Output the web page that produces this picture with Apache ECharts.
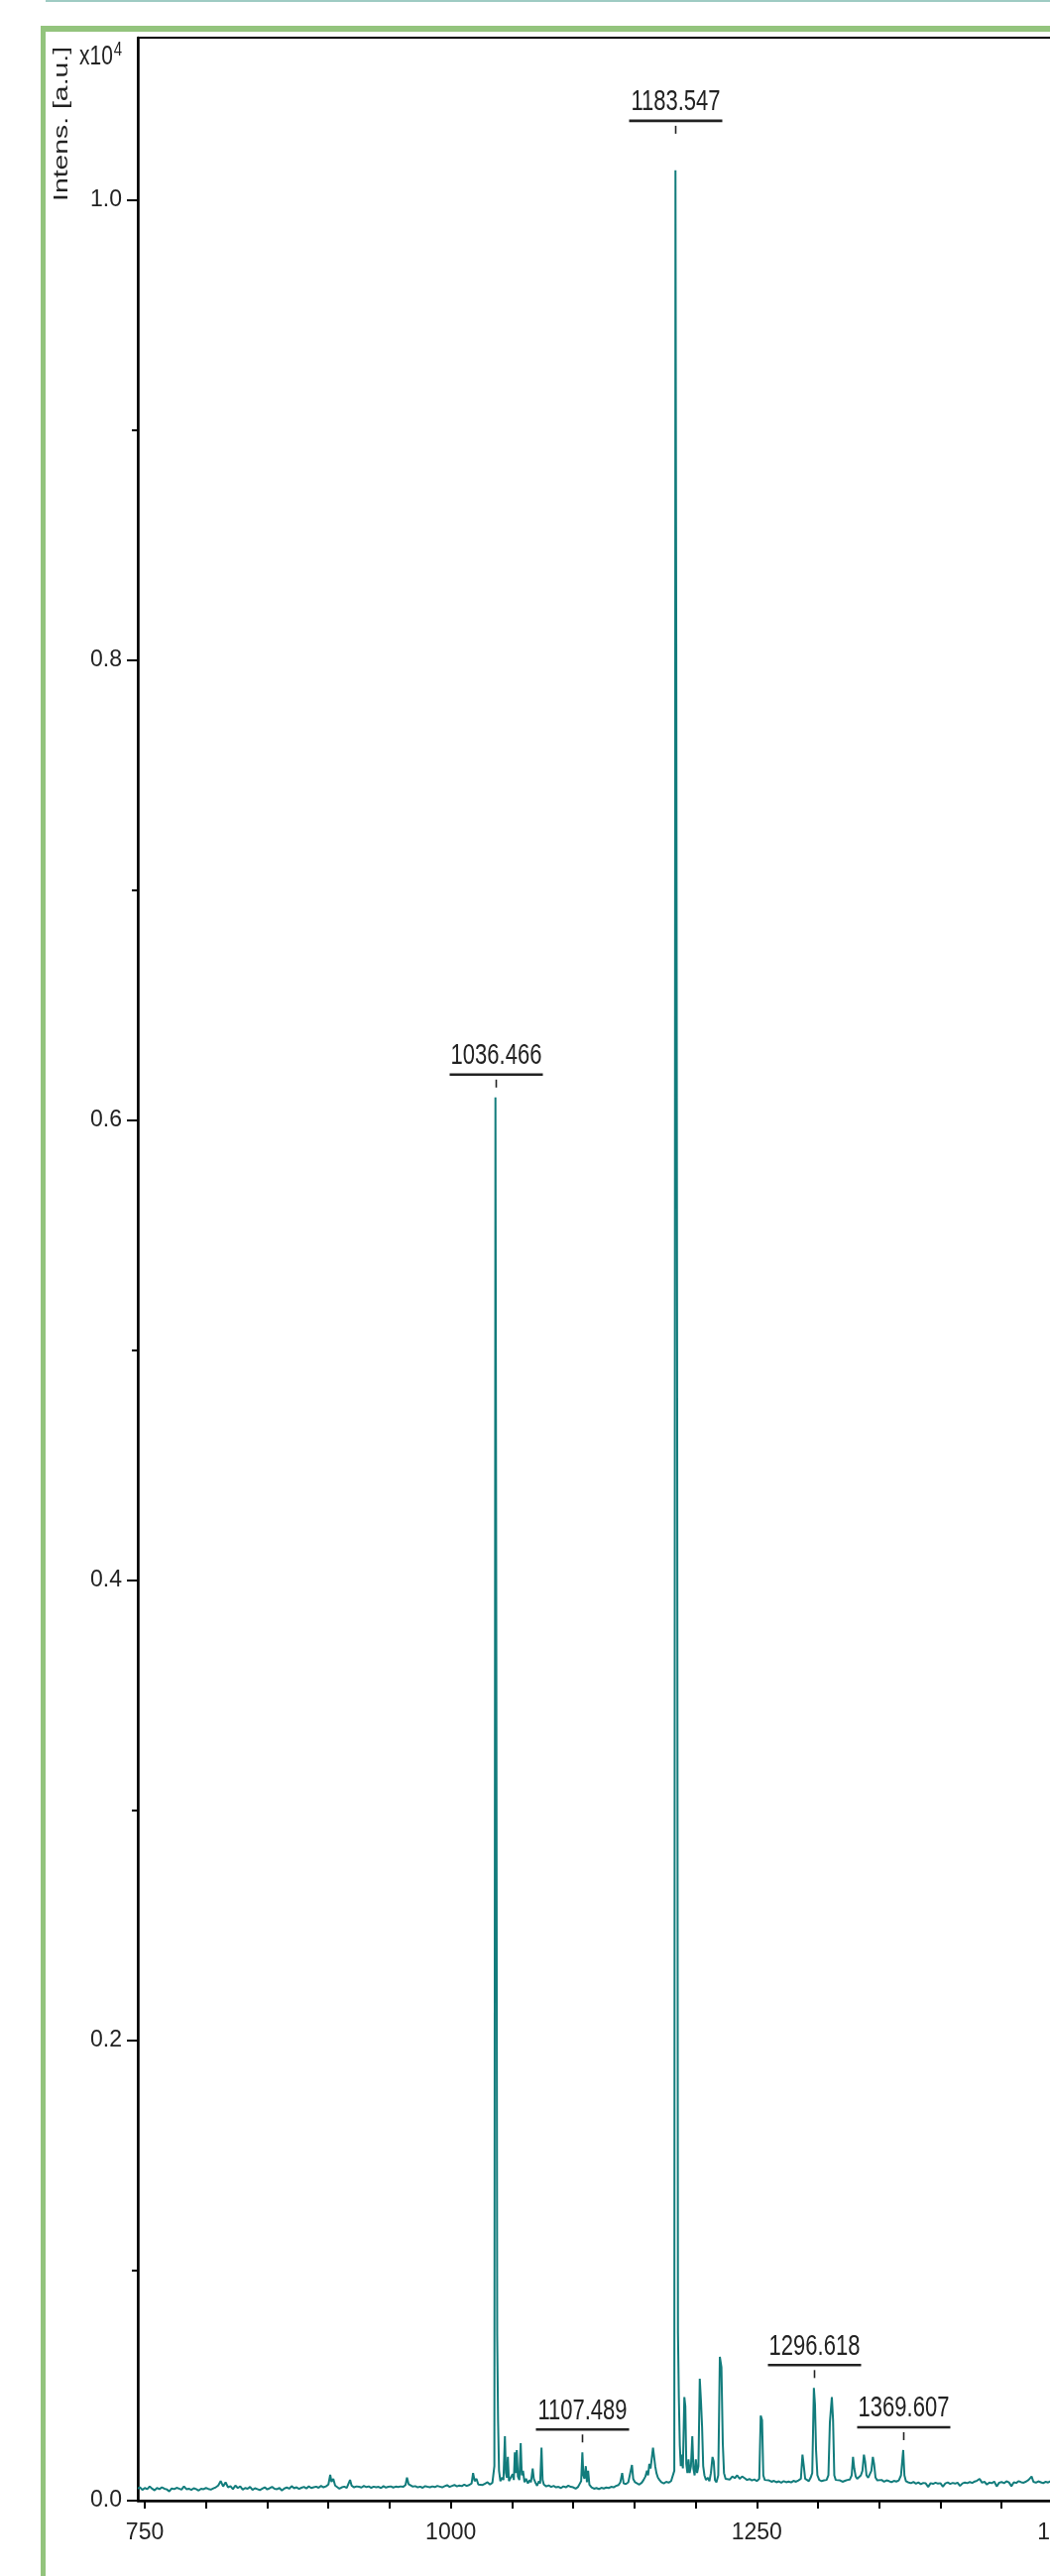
<!DOCTYPE html>
<html>
<head>
<meta charset="utf-8">
<script src="https://cdn.jsdelivr.net/npm/echarts@6/dist/echarts.min.js"></script>
<style>
  html, body { margin: 0; padding: 0; background: #ffffff; overflow: hidden; }
  #chart { width: 1200px; height: 2598px; }
</style>
</head>
<body>
<div id="chart"></div>
<script>
// Mass spectrum, m/z vs intensity (intensity in units of 10^4 a.u.)

// m/z 744 - 1034: baseline region
const regionLow = [
  [744.3, 0.0052], [746, 0.0058], [748, 0.0047], [750, 0.0055], [752, 0.0050], [754, 0.0062],
  [756, 0.0052], [758, 0.0045], [760, 0.0055], [762, 0.0050], [764, 0.0058], [766, 0.0052],
  [768, 0.0049], [770, 0.0040], [772, 0.0053], [774, 0.0050], [776, 0.0056], [778, 0.0052],
  [780, 0.0048], [782, 0.0062], [784, 0.0050], [786, 0.0052], [788, 0.0047], [790, 0.0054],
  [792, 0.0050], [794, 0.0044], [796, 0.0052], [798, 0.0050], [800, 0.0055], [802, 0.0051],
  [804, 0.0048], [806, 0.0053], [808, 0.0058], [810, 0.0066], [812, 0.0085], [814, 0.0062],
  [816, 0.0080], [818, 0.0058], [820, 0.0063], [822, 0.0050], [824, 0.0066], [826, 0.0055],
  [828, 0.0062], [830, 0.0048], [832, 0.0055], [834, 0.0052], [836, 0.0060], [838, 0.0047],
  [840, 0.0054], [842, 0.0050], [844, 0.0046], [846, 0.0052], [848, 0.0058], [850, 0.0049],
  [852, 0.0054], [854, 0.0060], [856, 0.0052], [858, 0.0050], [860, 0.0055], [862, 0.0044],
  [864, 0.0053], [866, 0.0057], [868, 0.0052], [870, 0.0063], [872, 0.0054], [874, 0.0058],
  [876, 0.0051], [878, 0.0056], [880, 0.0060], [882, 0.0053], [884, 0.0062], [886, 0.0055],
  [888, 0.0058], [890, 0.0061], [892, 0.0056], [894, 0.0064], [896, 0.0058], [898, 0.0062],
  [900, 0.0070], [901.5, 0.0112], [902.5, 0.0082], [904, 0.0095], [905.5, 0.0066], [907, 0.0058],
  [909, 0.0052], [911, 0.0058], [913, 0.0061], [915, 0.0055], [917.7, 0.0090], [919, 0.0065],
  [921, 0.0058], [923, 0.0062], [925, 0.0060], [927, 0.0057], [929, 0.0064], [931, 0.0059],
  [933, 0.0062], [935, 0.0056], [937, 0.0061], [939, 0.0058], [941, 0.0060], [943, 0.0055],
  [945, 0.0063], [947, 0.0057], [949, 0.0060], [951, 0.0062], [953, 0.0057], [955, 0.0061],
  [957, 0.0059], [959, 0.0062], [961, 0.0060], [963, 0.0068], [964.2, 0.0100], [965.5, 0.0072],
  [967, 0.0065], [969, 0.0061], [971, 0.0063], [973, 0.0058], [975, 0.0061], [977, 0.0056],
  [979, 0.0063], [981, 0.0060], [983, 0.0058], [985, 0.0062], [987, 0.0059], [989, 0.0064],
  [991, 0.0061], [993, 0.0058], [995, 0.0063], [997, 0.0067], [999, 0.0060], [1001, 0.0064],
  [1003, 0.0068], [1005, 0.0062], [1007, 0.0066], [1009, 0.0063], [1011, 0.0070], [1013, 0.0064],
  [1015, 0.0068], [1017, 0.0075], [1018.2, 0.0120], [1019.5, 0.0085], [1021, 0.0095], [1022.5, 0.0070],
  [1024, 0.0078], [1026, 0.0068], [1028, 0.0074], [1030, 0.0080], [1032, 0.0070], [1034, 0.0078]
];

// m/z 1035 - 1181: first main peak and minor signals
const regionMid = [
  [1035.6, 0.0150], [1036.466, 0.6100], [1037.2, 0.3670], [1037.9, 0.0720], [1038.6, 0.0350],
  [1039.4, 0.0130], [1040.5, 0.0085], [1042, 0.0100], [1043, 0.0090], [1044.2, 0.0280],
  [1045.0, 0.0120], [1045.8, 0.0100], [1046.6, 0.0190], [1047.5, 0.0085], [1049, 0.0090],
  [1050.5, 0.0115], [1051.5, 0.0090], [1052.3, 0.0210], [1053.1, 0.0120], [1053.9, 0.0220],
  [1054.8, 0.0105], [1056, 0.0090], [1057.1, 0.0250], [1058, 0.0110], [1059, 0.0130],
  [1060.2, 0.0080], [1061.5, 0.0095], [1063, 0.0075], [1064.5, 0.0090], [1065.5, 0.0080],
  [1066.9, 0.0140], [1067.8, 0.0095], [1069, 0.0080], [1070.5, 0.0065], [1072, 0.0085],
  [1073, 0.0075], [1074.1, 0.0230], [1075, 0.0090], [1076, 0.0070], [1078, 0.0062],
  [1080, 0.0066], [1082, 0.0060], [1084, 0.0064], [1086, 0.0058], [1088, 0.0060],
  [1090, 0.0055], [1092, 0.0062], [1094, 0.0058], [1096, 0.0065], [1098, 0.0060],
  [1100, 0.0058], [1102, 0.0052], [1104, 0.0060], [1105.5, 0.0075], [1106.5, 0.0085],
  [1107.489, 0.0210], [1108.3, 0.0110], [1109.2, 0.0095], [1110.3, 0.0150], [1111.2, 0.0080],
  [1112.2, 0.0130], [1113.2, 0.0070], [1115, 0.0058], [1117, 0.0052], [1119, 0.0055],
  [1121, 0.0050], [1123, 0.0056], [1125, 0.0053], [1127, 0.0057], [1129, 0.0055],
  [1131, 0.0060], [1133, 0.0058], [1135, 0.0064], [1137, 0.0068], [1138.5, 0.0080],
  [1140, 0.0120], [1141.2, 0.0075], [1143, 0.0072], [1145, 0.0080], [1146.5, 0.0085],
  [1148, 0.0155], [1149, 0.0095], [1150.5, 0.0080], [1152, 0.0075], [1154, 0.0070],
  [1156, 0.0078], [1157.5, 0.0090], [1159, 0.0105], [1160.3, 0.0130], [1161.2, 0.0110],
  [1162.2, 0.0160], [1163.2, 0.0140], [1164.2, 0.0185], [1165.2, 0.0230], [1166.1, 0.0190],
  [1167, 0.0150], [1168, 0.0120], [1169.2, 0.0100], [1170.5, 0.0090], [1172, 0.0080],
  [1174, 0.0075], [1176, 0.0082], [1178, 0.0078], [1180, 0.0085], [1181.5, 0.0090]
];

// m/z 1182 - 1258: base peak cluster
const regionBase = [
  [1182.6, 0.0130], [1183.547, 1.0130], [1184.2, 0.8070], [1184.9, 0.5010], [1185.6, 0.0730],
  [1186.3, 0.0450], [1187.1, 0.0240], [1187.9, 0.0150], [1188.7, 0.0200], [1189.6, 0.0140],
  [1190.8, 0.0450], [1191.6, 0.0410], [1192.4, 0.0160], [1193.3, 0.0120], [1194.2, 0.0180],
  [1195.1, 0.0120], [1196.2, 0.0150], [1197.3, 0.0280], [1198.2, 0.0140], [1199.2, 0.0110],
  [1200.2, 0.0180], [1201.2, 0.0120], [1202.3, 0.0150], [1203.4, 0.0530], [1204.4, 0.0430],
  [1205.3, 0.0320], [1206.2, 0.0150], [1207.2, 0.0110], [1208.5, 0.0090], [1210, 0.0100],
  [1211.3, 0.0085], [1212.5, 0.0120], [1213.8, 0.0190], [1214.8, 0.0170], [1215.8, 0.0090],
  [1217, 0.0080], [1218.5, 0.0110], [1219.8, 0.0625], [1221.1, 0.0580], [1222.2, 0.0250],
  [1223.2, 0.0120], [1224.5, 0.0095], [1226, 0.0100], [1228, 0.0092], [1230, 0.0105],
  [1232, 0.0098], [1234, 0.0110], [1236, 0.0095], [1238, 0.0105], [1240, 0.0098],
  [1242, 0.0090], [1244, 0.0094], [1246, 0.0088], [1248, 0.0092], [1250, 0.0085],
  [1252, 0.0095], [1253.2, 0.0370], [1254.3, 0.0350], [1255.3, 0.0110], [1256.5, 0.0090],
  [1258, 0.0085]
];

// m/z 1260 - 1374: minor peak series
const regionHigh = [
  [1260, 0.0088], [1262, 0.0082], [1264, 0.0086], [1266, 0.0080], [1268, 0.0084],
  [1270, 0.0078], [1272, 0.0085], [1274, 0.0080], [1276, 0.0083], [1278, 0.0079],
  [1280, 0.0086], [1282, 0.0082], [1284, 0.0088], [1286, 0.0095], [1287.3, 0.0200],
  [1288.4, 0.0150], [1289.5, 0.0095], [1291, 0.0090], [1292.5, 0.0085], [1294, 0.0100],
  [1295.3, 0.0120], [1296.618, 0.0490], [1297.5, 0.0420], [1298.4, 0.0220], [1299.5, 0.0110],
  [1301, 0.0090], [1303, 0.0085], [1305, 0.0088], [1307, 0.0090], [1308.5, 0.0110],
  [1309.7, 0.0340], [1311.3, 0.0450], [1312.3, 0.0350], [1313.3, 0.0110], [1314.5, 0.0090],
  [1316, 0.0085], [1318, 0.0088], [1320, 0.0082], [1322, 0.0086], [1324, 0.0090],
  [1326, 0.0092], [1327.5, 0.0110], [1328.6, 0.0190], [1329.6, 0.0140], [1330.8, 0.0105],
  [1332, 0.0095], [1333.5, 0.0100], [1335, 0.0110], [1336.3, 0.0130], [1337.5, 0.0200],
  [1338.5, 0.0170], [1339.6, 0.0110], [1341, 0.0100], [1342.5, 0.0105], [1343.6, 0.0130],
  [1344.8, 0.0190], [1345.8, 0.0160], [1347, 0.0100], [1348.5, 0.0088], [1350, 0.0085],
  [1352, 0.0090], [1354, 0.0082], [1356, 0.0088], [1358, 0.0085], [1360, 0.0080],
  [1362, 0.0086], [1364, 0.0083], [1366, 0.0088], [1367.8, 0.0110], [1369.607, 0.0220],
  [1370.6, 0.0110], [1371.8, 0.0085], [1373.5, 0.0080]
];

// m/z 1376 - 1560: trailing baseline
const regionTail = [
  [1376, 0.0076], [1378, 0.0081], [1380, 0.0074], [1382, 0.0079], [1384, 0.0072],
  [1386, 0.0077], [1388, 0.0075], [1390, 0.0060], [1392, 0.0076], [1394, 0.0073],
  [1396, 0.0078], [1398, 0.0074], [1400, 0.0076], [1402, 0.0061], [1404, 0.0075],
  [1406, 0.0079], [1408, 0.0073], [1410, 0.0077], [1412, 0.0074], [1414, 0.0078],
  [1416, 0.0064], [1418, 0.0075], [1420, 0.0079], [1422, 0.0076], [1424, 0.0081],
  [1426, 0.0077], [1428, 0.0083], [1430, 0.0087], [1432, 0.0095], [1434, 0.0078],
  [1436, 0.0082], [1438, 0.0070], [1440, 0.0079], [1442, 0.0076], [1444, 0.0083],
  [1446, 0.0062], [1448, 0.0078], [1450, 0.0081], [1452, 0.0076], [1454, 0.0084],
  [1456, 0.0079], [1458, 0.0063], [1460, 0.0080], [1462, 0.0077], [1464, 0.0085],
  [1466, 0.0080], [1468, 0.0078], [1470, 0.0083], [1472, 0.0090], [1474.5, 0.0105],
  [1476, 0.0082], [1478, 0.0078], [1480, 0.0084], [1482, 0.0080], [1484, 0.0076],
  [1486, 0.0082], [1488, 0.0079], [1490, 0.0085], [1492, 0.0080], [1495, 0.0078],
  [1500, 0.0082], [1505, 0.0077], [1510, 0.0080], [1520, 0.0078], [1530, 0.0081],
  [1540, 0.0077], [1550, 0.0080], [1560, 0.0078]
];

// labelled peaks (m/z as printed)
const peakLabels = ['1036.466', '1107.489', '1183.547', '1296.618', '1369.607'];

// axis ticks and labels
const xTickValues = [750, 800, 850, 900, 950, 1000, 1050, 1100, 1150, 1200, 1250, 1300, 1350, 1400, 1450, 1500, 1550];
const xLabelValues = [750, 1000, 1250, 1500];
const yMajorValues = [0, 0.2, 0.4, 0.6, 0.8, 1.0];
const yMinorValues = [0.1, 0.3, 0.5, 0.7, 0.9];

const spectrum = regionLow.concat(regionMid, regionBase, regionHigh, regionTail);

// intensity of each labelled peak is taken from the spectrum itself
const labelPoints = peakLabels.map(function (lbl) {
  const mz = Number(lbl);
  const hit = spectrum.find(function (p) { return p[0] === mz; });
  return [mz, hit ? hit[1] : 0];
});

// extra vertical clearance for a label above a crowded apex (px)
const labelLift = { '1183.547': 27 };

const X_MIN = 744.3, X_MAX = 1560, Y_MAX = 1.0707;
const TEXT_FONT = "'Liberation Sans', Arial, sans-serif";
const LINE_COLOR = '#127c7c';

const chart = echarts.init(document.getElementById('chart'), null, { renderer: 'canvas' });

chart.setOption({
  animation: false,
  backgroundColor: '#ffffff',
  grid: {
    left: 139, top: 38, right: 54, bottom: 76,
    show: true, borderColor: '#000', borderWidth: 2, backgroundColor: 'transparent'
  },
  xAxis: {
    type: 'value', min: X_MIN, max: X_MAX,
    axisLine: { lineStyle: { color: '#000', width: 2.5 } },
    axisTick: { customValues: xTickValues, length: 8, lineStyle: { color: '#000', width: 2 } },
    axisLabel: {
      customValues: xLabelValues, margin: 21, color: '#222',
      fontFamily: TEXT_FONT, fontSize: 23,
      formatter: function (v) { return String(v); }
    },
    splitLine: { show: false }
  },
  yAxis: [
    {
      type: 'value', min: 0, max: Y_MAX, position: 'left',
      axisLine: { show: true, lineStyle: { color: '#000', width: 2.5 } },
      axisTick: { show: true, customValues: yMajorValues, length: 11, lineStyle: { color: '#000', width: 2 } },
      axisLabel: {
        customValues: yMajorValues, margin: 16, color: '#222',
        fontFamily: TEXT_FONT, fontSize: 23,
        formatter: function (v) { return v.toFixed(1); }
      },
      splitLine: { show: false }
    },
    {
      type: 'value', min: 0, max: Y_MAX, position: 'left', offset: 0,
      axisLine: { show: false },
      axisTick: { show: true, customValues: yMinorValues, length: 6, lineStyle: { color: '#000', width: 2 } },
      axisLabel: { show: false },
      splitLine: { show: false }
    }
  ],
  series: [
    {
      type: 'line',
      data: spectrum,
      showSymbol: false,
      symbol: 'none',
      lineStyle: { color: LINE_COLOR, width: 2 },
      z: 2
    },
    {
      type: 'custom',
      data: labelPoints,
      encode: { x: 0, y: 1 },
      clip: false,
      z: 5,
      renderItem: function (params, api) {
        const p = api.coord([api.value(0), api.value(1)]);
        const lbl = peakLabels[params.dataIndex];
        const lift = labelLift[lbl] || 0;
        const x = Math.round(p[0]) + 0.5;
        const base = p[1] - lift;
        const underlineY = base - 23;
        return {
          type: 'group',
          children: [
            {
              type: 'line',
              shape: { x1: x, y1: base - 18, x2: x, y2: base - 10 },
              style: { stroke: '#222', lineWidth: 1.6 }
            },
            {
              type: 'line',
              shape: { x1: x - 47, y1: underlineY, x2: x + 47, y2: underlineY },
              style: { stroke: '#222', lineWidth: 2.6 }
            },
            {
              type: 'text',
              x: x, y: underlineY - 4,
              scaleY: 1.35,
              style: {
                text: lbl, fill: '#222', fontSize: 22, fontFamily: TEXT_FONT,
                align: 'center', verticalAlign: 'bottom'
              }
            }
          ]
        };
      }
    }
  ],
  graphic: [
    // thin rule along the top edge
    { type: 'rect', shape: { x: 46, y: 0, width: 1200, height: 2 }, style: { fill: '#9fcbc3' } },
    // green frame
    { type: 'rect', shape: { x: 41, y: 26, width: 1200, height: 6 }, style: { fill: '#93c47d' } },
    { type: 'rect', shape: { x: 41, y: 26, width: 5, height: 2600 }, style: { fill: '#93c47d' } },
    // axis title
    {
      type: 'text', x: 62, y: 203, rotation: Math.PI / 2, scaleX: 1.35,
      style: {
        text: 'Intens. [a.u.]', fill: '#222', fontSize: 21, fontFamily: TEXT_FONT,
        align: 'left', verticalAlign: 'middle'
      }
    },
    {
      type: 'text', x: 80, y: 71, scaleY: 1.35,
      style: {
        text: '{b|x10}{s|4}', fontFamily: TEXT_FONT, fill: '#222',
        align: 'left', verticalAlign: 'bottom',
        rich: {
          b: { fontSize: 21, fontFamily: TEXT_FONT, fill: '#222', verticalAlign: 'bottom' },
          s: { fontSize: 15, fontFamily: TEXT_FONT, fill: '#222', verticalAlign: 'top', padding: [0, 0, 8, 1] }
        }
      }
    }
  ]
});
</script>
</body>
</html>
